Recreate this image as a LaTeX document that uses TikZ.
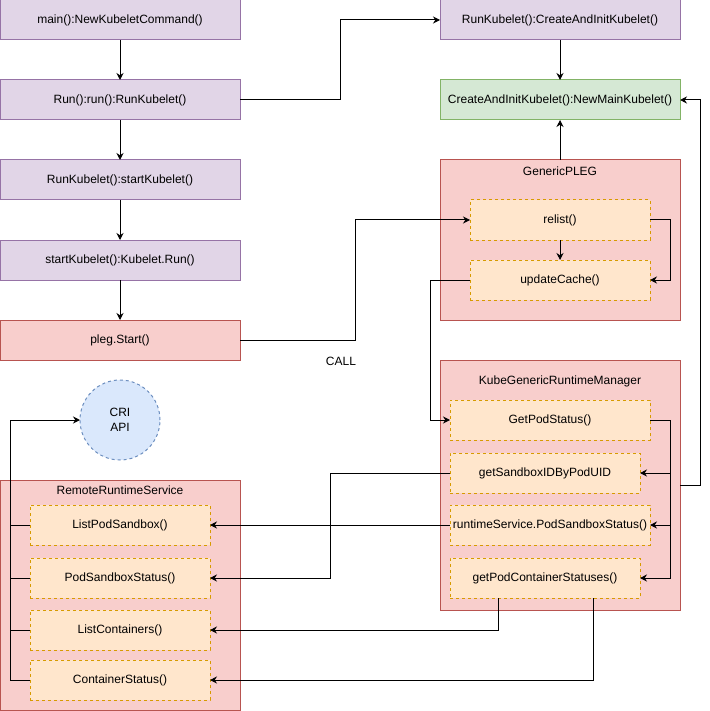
\documentclass[tikz,border=0pt]{standalone}
\usepackage{fontspec}
\setmainfont{Liberation Sans}
\usetikzlibrary{arrows.meta}
\definecolor{purplefill}{HTML}{E1D5E7}
\definecolor{purpleline}{HTML}{9673A6}
\definecolor{redfill}{HTML}{F8CECC}
\definecolor{redline}{HTML}{B85450}
\definecolor{greenfill}{HTML}{D5E8D4}
\definecolor{greenline}{HTML}{82B366}
\definecolor{orangefill}{HTML}{FFE6CC}
\definecolor{orangeline}{HTML}{D79B00}
\definecolor{bluefill}{HTML}{DAE8FC}
\definecolor{blueline}{HTML}{6C8EBF}
\tikzstyle{func_box}=[rectangle, draw=purpleline, fill=purplefill, minimum width=240pt, minimum height=40pt, inner sep=1pt, outer sep=0pt]
\tikzstyle{pleg_box}=[draw=redline, fill=redfill]
\tikzstyle{main_box}=[draw=greenline, fill=greenfill]
\tikzstyle{group_box}=[rectangle, draw=redline, fill=redfill, minimum width=240pt, outer sep=0pt]
\tikzstyle{step_box}=[rectangle, draw=orangeline, fill=orangefill, dash pattern=on 3pt off 3pt, minimum width=180pt, minimum height=40pt, inner sep=1pt, outer sep=0pt]
\tikzstyle{cri_circle}=[circle, draw=blueline, fill=bluefill, dash pattern=on 3pt off 3pt, minimum size=80pt, inner sep=0pt, outer sep=0pt, align=center]
\begin{document}
\begin{tikzpicture}[x=1pt, y=-1pt, font=\fontsize{12}{15}\selectfont, line width=1pt, >={Stealth[length=7pt,width=7pt]}]
\useasboundingbox (0,0) rectangle (709,711);
\node[func_box] (main) at (120,20){main():NewKubeletCommand()};
\node[func_box] (run) at (120,100){Run():run():RunKubelet()};
\node[func_box] (startkl) at (120,180){RunKubelet():startKubelet()};
\node[func_box] (klrun) at (120,260){startKubelet():Kubelet.Run()};
\node[func_box, pleg_box] (plegstart) at (120,340){pleg.Start()};
\node[func_box] (createinit) at (560,20){RunKubelet():CreateAndInitKubelet()};
\node[func_box, main_box] (newmain) at (560,100){CreateAndInitKubelet():NewMainKubelet()};
\node[group_box, minimum height=160pt] (pleg) at (560,240){};
\node[] (pleg_title) at (560,171){GenericPLEG};
\node[step_box] (relist) at (560,220){relist()};
\node[step_box] (updcache) at (560,280){updateCache()};
\node[] (call) at (341,361){CALL};
\node[group_box, minimum height=250pt] (kgrm) at (560,485){};
\node[] (kgrm_title) at (560,381){KubeGenericRuntimeManager};
\node[step_box, minimum width=200pt] (getpod) at (550,420){GetPodStatus()};
\node[step_box, minimum width=190pt] (sandboxid) at (545,473){getSandboxIDByPodUID};
\node[step_box, minimum width=200pt] (rtsstatus) at (550,525){runtimeService.PodSandboxStatus()};
\node[step_box, minimum width=190pt] (ctrstatuses) at (545,578){getPodContainerStatuses()};
\node[cri_circle] (cri) at (120,420){CRI\\API};
\node[group_box, minimum height=230pt] (rrs) at (120,595){};
\node[] (rrs_title) at (120,490){RemoteRuntimeService};
\node[step_box] (listsb) at (120,525){ListPodSandbox()};
\node[step_box] (sbstatus) at (120,578){PodSandboxStatus()};
\node[step_box] (listctr) at (120,630){ListContainers()};
\node[step_box] (ctrstatus) at (120,680){ContainerStatus()};
\draw[->](main) -- (run);
\draw[->](run) -- (startkl);
\draw[->](startkl) -- (klrun);
\draw[->](klrun) -- (plegstart);
\draw[->](run.east) -- ++(100,0) |- (createinit.west);
\draw[->](createinit) -- (newmain);
\draw[->](pleg) -- (newmain);
\draw[->](plegstart.east) -- ++(115,0) |- (relist.west);
\draw[->](relist) -- (updcache);
\draw[->](relist.east) -- ++(20,0) |- (updcache.east);
\draw[->](updcache.west) -- ++(-40,0) |- (getpod.west);
\draw[->](getpod.east) -- ++(20,0) |- (sandboxid.east);
\draw[->](getpod.east) -- ++(20,0) |- (rtsstatus.east);
\draw[->](getpod.east) -- ++(20,0) |- (ctrstatuses.east);
\draw[->](kgrm.east) -- ++(20,0) |- (newmain.east);
\draw[->](sandboxid.west) -- ++(-120,0) |- (sbstatus.east);
\draw[->](rtsstatus.west) -- (listsb.east);
\draw[->]([xshift=-47pt]ctrstatuses.south) |- (listctr.east);
\draw[->]([xshift=48pt]ctrstatuses.south) |- (ctrstatus.east);
\draw[](listsb.west) -- ++(-20,0);
\draw[](sbstatus.west) -- ++(-20,0);
\draw[](listctr.west) -- ++(-20,0);
\draw[->](ctrstatus.west) -- ++(-20,0) |- (cri.west);
\end{tikzpicture}
\end{document}
